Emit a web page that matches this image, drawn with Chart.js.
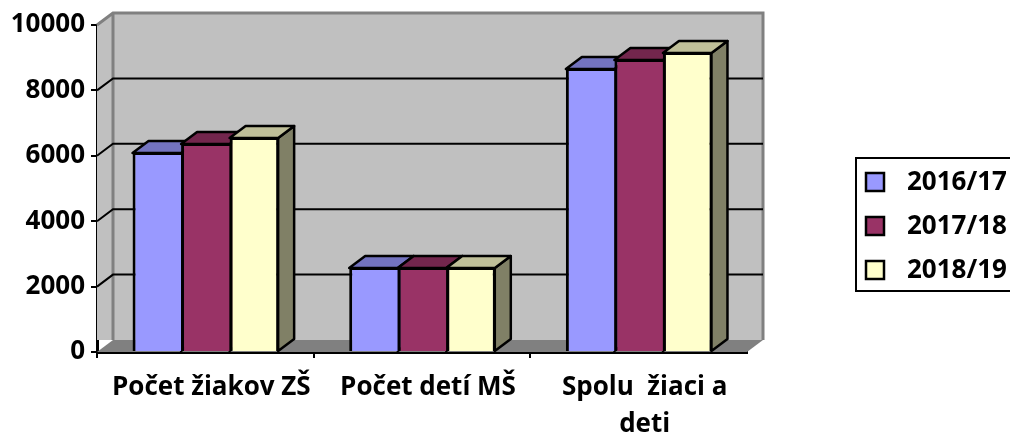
<!DOCTYPE html>
<html lang="sk">

<head>
    <meta charset="UTF-8">
    <title>Počet žiakov a detí</title>
    <script src="https://cdn.jsdelivr.net/npm/chart.js"></script>
    <style>
        html, body {
            margin: 0;
            padding: 0;
            background: #fff;
            overflow: hidden;
        }
    </style>
</head>

<body>
    <canvas id="graf" width="1010" height="432"></canvas>

    <script type="text/javascript">
        // Data
        var kategorie = ['Počet žiakov ZŠ', 'Počet detí MŠ', ['Spolu  žiaci a', 'deti']];
        var rok1617 = [6085, 2570, 8655];
        var rok1718 = [6360, 2570, 8930];
        var rok1819 = [6545, 2570, 9140];

        var HLBKA_X = 16;
        var HLBKA_Y = -12;
        var PISMO = '"Open Sans", sans-serif';

        function ztmav(hex, k) {
            var n = parseInt(hex.slice(1), 16);
            var r = Math.round((n >> 16 & 255) * k);
            var g = Math.round((n >> 8 & 255) * k);
            var b = Math.round((n & 255) * k);
            return 'rgb(' + r + ',' + g + ',' + b + ')';
        }

        function plocha(ctx, body, vypln, obrys, hrubka) {
            ctx.beginPath();
            ctx.moveTo(body[0][0], body[0][1]);
            for (var i = 1; i < body.length; i++) ctx.lineTo(body[i][0], body[i][1]);
            ctx.closePath();
            if (vypln) {
                ctx.fillStyle = vypln;
                ctx.fill();
            }
            if (obrys) {
                ctx.strokeStyle = obrys;
                ctx.lineWidth = hrubka;
                ctx.lineJoin = 'round';
                ctx.stroke();
            }
        }

        // Steny, podlaha a mriezka za stĺpcami + bočné a horné plochy stĺpcov
        var priestor = {
            id: 'priestor',
            beforeDatasetsDraw: function (chart) {
                var ctx = chart.ctx;
                var a = chart.chartArea;
                var y = chart.scales.y;
                var dx = HLBKA_X, dy = HLBKA_Y;

                ctx.save();
                plocha(ctx, [[a.left, a.top], [a.left + dx, a.top + dy], [a.right + dx, a.top + dy],
                    [a.right + dx, a.bottom + dy], [a.left, a.bottom + dy]], '#c0c0c0');
                plocha(ctx, [[a.left, a.bottom], [a.left + dx, a.bottom + dy], [a.right + dx, a.bottom + dy],
                    [a.right, a.bottom]], '#808080');

                // obrys steny
                ctx.strokeStyle = '#808080';
                ctx.lineWidth = 3;
                ctx.beginPath();
                ctx.moveTo(a.left, a.top);
                ctx.lineTo(a.left + dx, a.top + dy);
                ctx.lineTo(a.right + dx, a.top + dy);
                ctx.lineTo(a.right + dx, a.bottom + dy);
                ctx.moveTo(a.left + dx, a.top + dy);
                ctx.lineTo(a.left + dx, a.bottom + dy);
                ctx.stroke();

                // mriezka
                ctx.strokeStyle = '#000';
                ctx.lineWidth = 2;
                y.ticks.forEach(function (t) {
                    if (t.value === 0 || t.value === 10000) return;
                    var py = y.getPixelForValue(t.value);
                    ctx.beginPath();
                    ctx.moveTo(a.left, py);
                    ctx.lineTo(a.left + dx, py + dy);
                    ctx.lineTo(a.right + dx, py + dy);
                    ctx.stroke();
                });

                // 3D plochy stĺpcov
                chart.data.labels.forEach(function (_, i) {
                    chart.data.datasets.forEach(function (ds, d) {
                        var bar = chart.getDatasetMeta(d).data[i];
                        var l = bar.x - bar.width / 2;
                        var r = bar.x + bar.width / 2;
                        var t = bar.y;
                        var b = bar.base;
                        plocha(ctx, [[r, t], [r + dx, t + dy], [r + dx, b + dy], [r, b]],
                            ztmav(ds.backgroundColor, 0.5), '#000', 2.5);
                        plocha(ctx, [[l, t], [l + dx, t + dy], [r + dx, t + dy], [r, t]],
                            ztmav(ds.backgroundColor, 0.75), '#000', 2.5);
                    });
                });
                ctx.restore();
            },
            afterDraw: function (chart) {
                // Legenda - presahuje cez pravý okraj ako v predlohe
                var ctx = chart.ctx;
                ctx.save();
                ctx.strokeStyle = '#000';
                ctx.lineWidth = 2;
                ctx.strokeRect(856, 158, 170, 133);
                ctx.font = 'bold 26px ' + PISMO;
                ctx.textBaseline = 'middle';
                ctx.textAlign = 'left';
                chart.data.datasets.forEach(function (ds, d) {
                    var stred = 182 + d * 44;
                    ctx.fillStyle = ds.backgroundColor;
                    ctx.fillRect(866, stred - 9, 18, 18);
                    ctx.lineWidth = 2.5;
                    ctx.strokeRect(866, stred - 9, 18, 18);
                    ctx.fillStyle = '#000';
                    ctx.fillText(ds.label, 907, stred + 1);
                });
                ctx.restore();
            }
        };

        var ctx = document.getElementById('graf').getContext('2d');
        var graf = new Chart(ctx, {
            type: 'bar',
            data: {
                labels: kategorie,
                datasets: [
                    { label: '2016/17', data: rok1617, backgroundColor: '#9999ff', borderColor: '#000', borderWidth: { left: 3, top: 2, right: 0, bottom: 3 } },
                    { label: '2017/18', data: rok1718, backgroundColor: '#993366', borderColor: '#000', borderWidth: { left: 3, top: 2, right: 0, bottom: 3 } },
                    { label: '2018/19', data: rok1819, backgroundColor: '#ffffcc', borderColor: '#000', borderWidth: { left: 3, top: 2, right: 2, bottom: 3 } }
                ]
            },
            options: {
                responsive: false,
                animation: false,
                categoryPercentage: 0.672,
                barPercentage: 1,
                layout: { padding: { left: 0, right: 263, top: 25, bottom: 0 } },
                plugins: {
                    legend: { display: false },
                    tooltip: { enabled: false }
                },
                scales: {
                    x: {
                        afterFit: function (s) { s.height = 80; },
                        border: { color: '#000', width: 3 },
                        grid: {
                            drawOnChartArea: false,
                            tickLength: 6,
                            lineWidth: 2,
                            // koncová značka na pravom okraji v predlohe nie je
                            color: function (c) { return c.tick ? '#000' : 'rgba(0,0,0,0)'; }
                        },
                        ticks: {
                            color: '#000',
                            maxRotation: 0,
                            labelOffset: 6,
                            padding: 11,
                            font: { family: PISMO, size: 26, weight: 'bold', lineHeight: 1.42 }
                        }
                    },
                    y: {
                        min: 0,
                        max: 10000,
                        afterFit: function (s) { s.width = 97; },
                        border: { color: '#000', width: 3 },
                        grid: { drawOnChartArea: false, tickLength: 6, lineWidth: 2, color: '#000' },
                        ticks: {
                            stepSize: 2000,
                            color: '#000',
                            padding: 6,
                            font: { family: PISMO, size: 26, weight: 'bold' },
                            callback: function (v) { return String(v); }
                        }
                    }
                }
            },
            plugins: [priestor]
        });
    </script>

</body>

</html>
